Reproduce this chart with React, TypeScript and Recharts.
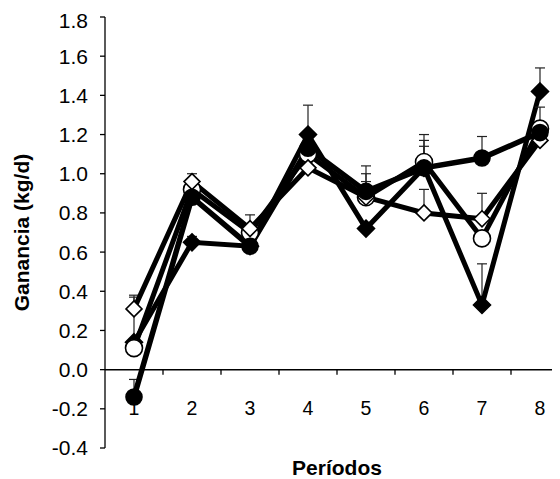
import React from 'react';
import { LineChart, Line, XAxis, YAxis, ErrorBar, ReferenceLine } from 'recharts';

const periods = [1, 2, 3, 4, 5, 6, 7, 8];
const yTicks = [-0.4, -0.2, 0, 0.2, 0.4, 0.6, 0.8, 1.0, 1.2, 1.4, 1.6, 1.8];

const filledCircle = [-0.14, 0.88, 0.63, 1.13, 0.91, 1.03, 1.08, 1.21];
const openCircle = [0.11, 0.92, 0.7, 1.1, 0.88, 1.06, 0.67, 1.23];
const filledDiamond = [0.14, 0.65, 0.63, 1.2, 0.72, 1.03, 0.33, 1.42];
const openDiamond = [0.31, 0.96, 0.72, 1.03, 0.88, 0.8, 0.77, 1.17];

const errFilledCircle = [0.09, 0.03, 0.03, 0.03, 0.13, 0.14, 0.11, 0.03];
const errOpenCircle = [0.03, 0.03, 0.03, 0.03, 0.12, 0.14, 0.03, 0.11];
const errFilledDiamond = [0.23, 0.03, 0.03, 0.15, 0.03, 0.11, 0.21, 0.12];
const errOpenDiamond = [0.07, 0.04, 0.07, 0.03, 0.08, 0.12, 0.13, 0.03];

const data = periods.map((p, i) => ({
  period: p,
  fc: filledCircle[i],
  oc: openCircle[i],
  fd: filledDiamond[i],
  od: openDiamond[i],
  fcErr: [0, errFilledCircle[i]],
  ocErr: [0, errOpenCircle[i]],
  fdErr: [0, errFilledDiamond[i]],
  odErr: [0, errOpenDiamond[i]],
}));

const FONT = '"Liberation Sans", Arial, Helvetica, sans-serif';

const circleDot = (fill: string, r: number) => (props: any) => {
  const { cx, cy, index } = props;
  if (cx == null || cy == null) return <g key={index} />;
  return <circle key={index} cx={cx} cy={cy} r={r} fill={fill} stroke="#000" strokeWidth={1.6} />;
};

const diamondDot = (fill: string, s: number) => (props: any) => {
  const { cx, cy, index } = props;
  if (cx == null || cy == null) return <g key={index} />;
  const pts = `${cx},${cy - s} ${cx + s},${cy} ${cx},${cy + s} ${cx - s},${cy}`;
  return <polygon key={index} points={pts} fill={fill} stroke="#000" strokeWidth={1.6} />;
};

const XTick = (props: any) => {
  const { x, y, payload } = props;
  return (
    <text x={x} y={y} dy={-41} textAnchor="middle" fontSize={19.5} fontFamily={FONT} fill="#000">
      {payload.value}
    </text>
  );
};

const boundaries = periods.map((p) => p + 0.5);

export default function App() {
  return (
    <div style={{ width: 552, height: 471, overflow: 'hidden' }}>
      <LineChart
        width={575}
        height={471}
        data={data}
        margin={{ top: 9, right: 14, left: 0, bottom: 0 }}
      >
        <XAxis
          type="number"
          dataKey="period"
          domain={[0.5, 8.5]}
          ticks={periods}
          axisLine={false}
          tickLine={false}
          height={31}
          tick={<XTick />}
          label={{
            value: 'Períodos',
            position: 'insideBottom',
            offset: 4,
            style: { fontWeight: 'bold', fontSize: 21, fontFamily: FONT, fill: '#000' },
          }}
        />
        <YAxis
          type="number"
          domain={[-0.4, 1.8]}
          ticks={yTicks}
          width={97}
          tickSize={5}
          tickMargin={12}
          tickFormatter={(v: number) => v.toFixed(1)}
          tick={{ fill: '#000', fontSize: 21, fontFamily: FONT }}
          axisLine={{ stroke: '#000', strokeWidth: 1.3 }}
          tickLine={{ stroke: '#000', strokeWidth: 1.3 }}
          label={{
            value: 'Ganancia (kg/d)',
            angle: -90,
            position: 'insideLeft',
            offset: 14,
            style: { textAnchor: 'middle', fontWeight: 'bold', fontSize: 21, fontFamily: FONT, fill: '#000' },
          }}
        />
        <ReferenceLine y={0} stroke="#000" strokeWidth={1.5} />
        {boundaries.map((b) => (
          <ReferenceLine
            key={b}
            segment={[{ x: b, y: 0 }, { x: b, y: -0.026 }]}
            stroke="#000"
            strokeWidth={1.3}
          />
        ))}
        <Line
          dataKey="fd"
          stroke="#000"
          strokeWidth={5}
          isAnimationActive={false}
          dot={diamondDot('#000', 8.5)}
        >
          <ErrorBar dataKey="fdErr" direction="y" width={5} stroke="#222" strokeWidth={1.2} />
        </Line>
        <Line
          dataKey="oc"
          stroke="#000"
          strokeWidth={5}
          isAnimationActive={false}
          dot={circleDot('#fff', 8.5)}
        >
          <ErrorBar dataKey="ocErr" direction="y" width={5} stroke="#222" strokeWidth={1.2} />
        </Line>
        <Line
          dataKey="od"
          stroke="#000"
          strokeWidth={5}
          isAnimationActive={false}
          dot={diamondDot('#fff', 8)}
        >
          <ErrorBar dataKey="odErr" direction="y" width={5} stroke="#222" strokeWidth={1.2} />
        </Line>
        <Line
          dataKey="fc"
          stroke="#000"
          strokeWidth={5.5}
          isAnimationActive={false}
          dot={circleDot('#000', 8)}
        >
          <ErrorBar dataKey="fcErr" direction="y" width={5} stroke="#222" strokeWidth={1.2} />
        </Line>
      </LineChart>
    </div>
  );
}
